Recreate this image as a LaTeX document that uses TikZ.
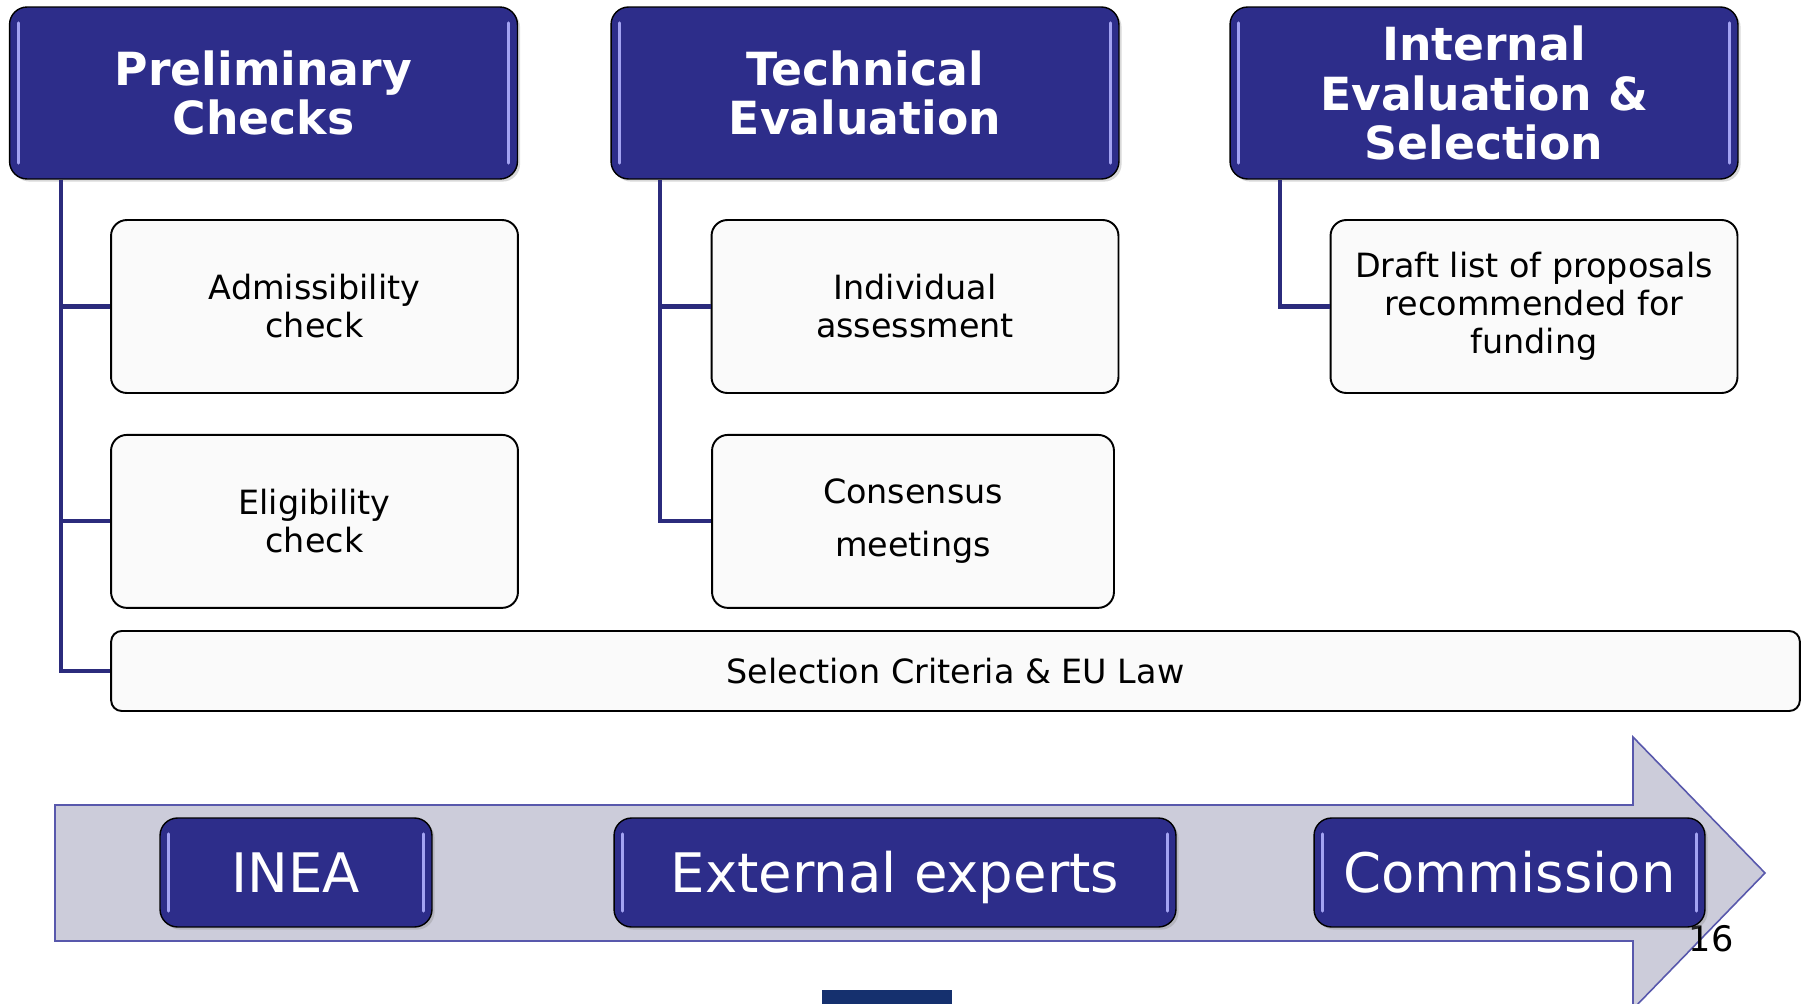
\documentclass[tikz,border=0pt]{standalone}
\usepackage{fontspec}
\setmainfont{DejaVu Sans}
\usepackage{tikz}
\usetikzlibrary{shapes,arrows,positioning,shadows}
\definecolor{phaseblue}{HTML}{2D2D8A}
\definecolor{gloss}{HTML}{A3A3F2}
\definecolor{linkblue}{HTML}{2B2B7C}
\definecolor{taskfill}{HTML}{FAFAFA}
\definecolor{arrowfill}{HTML}{CCCCDA}
\definecolor{arrowdraw}{HTML}{5858AC}
\definecolor{barblue}{HTML}{15306E}
\tikzset{
  every node/.style={
    font=\fontsize{19}{21.6}\selectfont
  },
  glossy/.style={
    shape=rectangle,
    rounded corners=10pt,
    draw=black,
    thick,
    fill=phaseblue,
    text=white,
    align=center,
    drop shadow={opacity=0.3,shadow xshift=1.5pt,shadow yshift=-1.5pt},
    path picture={
      \draw[gloss,line width=1.6pt,line cap=round]
        ([xshift=5pt,yshift=-9pt]path picture bounding box.north west) --
        ([xshift=5pt,yshift=9pt]path picture bounding box.south west);
      \draw[gloss,line width=1.6pt,line cap=round]
        ([xshift=-5pt,yshift=-9pt]path picture bounding box.north east) --
        ([xshift=-5pt,yshift=9pt]path picture bounding box.south east);
    }
  },
  phase/.style={
    glossy,
    minimum width=10.16cm,
    minimum height=3.44cm,
    font=\bfseries\fontsize{26}{28.4}\selectfont
  },
  actor/.style={
    glossy,
    minimum height=2.18cm,
    text height=22.6pt,
    text depth=0pt,
    font=\fontsize{31}{36}\selectfont
  },
  task/.style={
    shape=rectangle,
    rounded corners=9pt,
    draw=black,
    line width=1.1pt,
    fill=taskfill,
    minimum width=8.14cm,
    minimum height=3.46cm,
    align=center
  },
  link/.style={
    draw=linkblue,
    line width=2.3pt
  }
}

\begin{document}
\begin{tikzpicture}[x=0.02cm,y=-0.02cm]
  \useasboundingbox (0,0) rectangle (1806,1004);

  % phases
  \node [phase] (prelim) at (263.5,93) {Preliminary\\Checks};
  \node [phase] (techeval) at (865,93) {Technical\\Evaluation};
  \node [phase] (internal) at (1484,93) {Internal\\Evaluation \&\\Selection};

  % tasks
  \node [task] (admiss) at (314.5,306.5) {Admissibility\\check};
  \node [task, below=0.8cm of admiss] (elig) {Eligibility\\check};
  \node [task] (indiv) at (915,306.5) {Individual\\assessment};
  \node [task, minimum width=8.04cm, below=0.8cm of indiv.south, anchor=north, xshift=-0.04cm] (consens) {Consensus\\[8.5pt]meetings};
  \node [task] (draft) at (1534,306.5) {Draft list of proposals\\recommended for\\funding};
  \node [task, minimum width=33.78cm, minimum height=1.6cm, rounded corners=6pt] (criteria) at (955.5,671)
    {Selection Criteria \& EU Law};

  % links
  \draw [link] ([xshift=1.04cm]prelim.south west) |- (admiss.west);
  \draw [link] ([xshift=1.04cm]prelim.south west) |- (elig.west);
  \draw [link] ([xshift=1.04cm]prelim.south west) |- (criteria.west);
  \draw [link] ([xshift=1.0cm]techeval.south west) |- (indiv.west);
  \draw [link] ([xshift=1.0cm]techeval.south west) |- (consens.west);
  \draw [link] ([xshift=1.02cm]internal.south west) |- (draft.west);

  % timeline arrow
  \filldraw [fill=arrowfill, draw=arrowdraw, line width=0.9pt]
    (55,805) -- (1633,805) -- (1633,737) -- (1765,873) -- (1633,1009)
    -- (1633,941) -- (55,941) -- cycle;
  \node [font=\fontsize{20}{24}\selectfont] (pagenum) at (1711,939) {16};
  \node [actor, minimum width=5.44cm] (inea) at (296,872.5) {INEA};
  \node [actor, minimum width=11.24cm] (experts) at (895,872.5) {External experts};
  \node [actor, minimum width=7.82cm] (commission) at (1509.5,872.5) {Commission};

  \fill [barblue] (822,990) rectangle (952,1010);
\end{tikzpicture}
\end{document}
